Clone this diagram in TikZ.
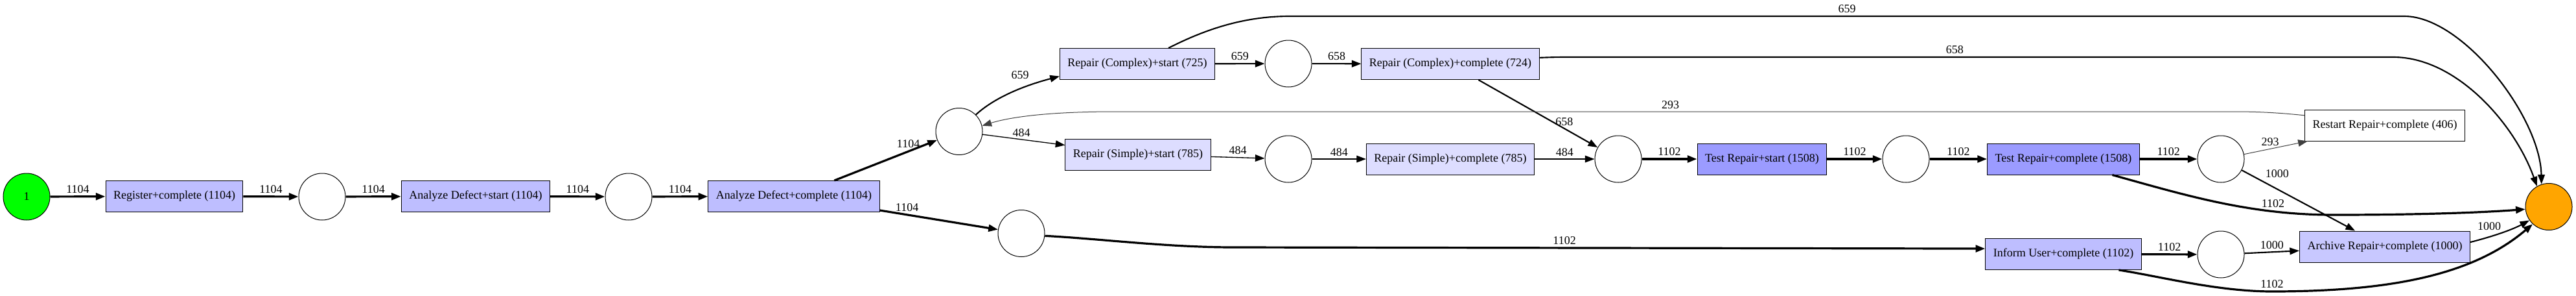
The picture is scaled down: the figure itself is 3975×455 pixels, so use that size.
\documentclass[tikz,border=0pt]{standalone}
\usepackage{fontspec}
\setmainfont{Liberation Serif}
\usetikzlibrary{arrows.meta}

\definecolor{startgreen}{RGB}{0,255,0}
\definecolor{endorange}{RGB}{255,165,0}
\definecolor{actblue}{RGB}{190,190,255}
\definecolor{actlight}{RGB}{200,200,255}
\definecolor{actpale}{RGB}{221,221,255}
\definecolor{actdark}{RGB}{155,155,255}
\definecolor{backgray}{RGB}{64,64,64}

\begin{document}
\begin{tikzpicture}[x=0.75pt,y=-0.75pt,>={Triangle[length=11pt,width=8pt]}]
        \tikzstyle{every node}=[font=\fontsize{13.5}{16}\selectfont]
        \tikzstyle{act}=[draw,rectangle,line width=0.75pt,minimum height=36pt,inner xsep=9pt,inner ysep=2pt]
        \tikzstyle{place}=[draw,circle,line width=0.75pt,minimum size=54pt,inner sep=0pt]
        \tikzstyle{lbl}=[inner sep=3pt,text=black]
        \tikzstyle{w4}=[->,line width=2.4pt]
        \tikzstyle{w3}=[->,line width=1.6pt]
        \tikzstyle{w2}=[->,line width=1pt]
        \tikzstyle{w1}=[->,line width=0.75pt,draw=backgray]
        \useasboundingbox (0,0) rectangle (3975,455);

        \node[place,fill=startgreen] (src) at (41,303) {1};
        \node[act,fill=actblue] (reg) at (269,302.5) {Register+complete (1104)};
        \node[place] (p1) at (497,303) {};
        \node[act,fill=actblue] (ads) at (734,302.5) {Analyze Defect+start (1104)};
        \node[place] (p2) at (970,303) {};
        \node[act,fill=actblue] (adc) at (1225,302.5) {Analyze Defect+complete (1104)};
        \node[place] (p3) at (1480,202.5) {};
        \node[place] (p4) at (1576,359.5) {};
        \node[act,fill=actpale] (rcs) at (1755,98.5) {Repair (Complex)+start (725)};
        \node[place] (p5) at (1988,98) {};
        \node[act,fill=actpale] (rcc) at (2238,98.5) {Repair (Complex)+complete (724)};
        \node[act,fill=actpale] (rss) at (1756,238) {Repair (Simple)+start (785)};
        \node[place] (p6) at (1988,245) {};
        \node[act,fill=actpale] (rsc) at (2238,245) {Repair (Simple)+complete (785)};
        \node[place] (p7) at (2497,245) {};
        \node[act,fill=actdark] (trs) at (2719,245) {Test Repair+start (1508)};
        \node[place] (p8) at (2941,245) {};
        \node[act,fill=actdark] (trc) at (3184,245) {Test Repair+complete (1508)};
        \node[place] (p9) at (3427,245) {};
        \node[act,fill=white] (rrc) at (3680,193) {Restart Repair+complete (406)};
        \node[act,fill=actblue] (iuc) at (3184,391.5) {Inform User+complete (1102)};
        \node[place] (p10) at (3427,392) {};
        \node[act,fill=actlight] (arc) at (3680,380) {Archive Repair+complete (1000)};
        \node[place,fill=endorange] (sink) at (3933,318.5) {};

        \draw[w4] (src) -- node[lbl,above] {1104} (reg);
        \draw[w4] (reg) -- node[lbl,above] {1104} (p1);
        \draw[w4] (p1) -- node[lbl,above] {1104} (ads);
        \draw[w4] (ads) -- node[lbl,above] {1104} (p2);
        \draw[w4] (p2) -- node[lbl,above] {1104} (adc);
        \draw[w4] (adc) -- node[lbl,above,pos=.72] {1104} (p3);
        \draw[w4] (adc) -- node[lbl,above,pos=.23] {1104} (p4);
        \draw[w3] (p3.45) .. controls (1535,150) and (1580,132) .. (rcs.189) node[lbl,above=8pt,pos=.6] {659};
        \draw[w2] (p3) -- node[lbl,above,pos=.47] {484} (rss);
        \draw[w3] (rcs) -- node[lbl,above] {659} (p5);
        \draw[w3] (p5) -- node[lbl,above] {658} (rcc);
        \draw[w2] (rss) -- node[lbl,above] {484} (p6);
        \draw[w2] (p6) -- node[lbl,above] {484} (rsc);
        \draw[w3] (rcc) -- node[lbl,right,pos=.62] {658} (p7);
        \draw[w2] (rsc) -- node[lbl,above] {484} (p7);
        \draw[w4] (p7) -- node[lbl,above] {1102} (trs);
        \draw[w4] (trs) -- node[lbl,above] {1102} (p8);
        \draw[w4] (p8) -- node[lbl,above] {1102} (trc);
        \draw[w4] (trc) -- node[lbl,above] {1102} (p9);
        \draw[w1] (p9) -- node[lbl,above,pos=.41] {293} (rrc);
        \draw[w3] (p9) -- node[lbl,above right,pos=.18] {1000} (arc);
        \draw[w1] (rrc.173) .. controls (3500,172) and (3470,172) .. (3434,172) -- node[lbl,above] {293} (1721,172) .. controls (1620,172) and (1560,180) .. (p3.14);
        \draw[w3] (rcs.27) .. controls (1860,45) and (1920,25) .. (1990,25) -- node[lbl,above] {659} (3710,25) .. controls (3800,25) and (3920,180) .. (sink.108);
        \draw[w3] (rcc.4) .. controls (2400,88) .. (2440,88) -- node[lbl,above,pos=.46] {658} (3693,88) .. controls (3790,88) and (3880,190) .. (sink.120);
        \draw[w4] (trc.-18) .. controls (3370,300) and (3470,331) .. (3600,331) node[lbl,above,pos=.75] {1102} .. controls (3760,331) and (3850,326) .. (sink.186);
        \draw[w4] (iuc.-16) .. controls (3330,425) and (3420,449) .. (3506,449) node[lbl,above] {1102} .. controls (3700,449) and (3820,420) .. (sink.227);
        \draw[w3] (arc.3) .. controls (3855,362) and (3880,352) .. (sink.215) node[lbl,above=4pt,pos=.25] {1000};
        \draw[w4] (iuc) -- node[lbl,above] {1102} (p10);
        \draw[w3] (p10) -- node[lbl,above] {1000} (arc);
        \draw[w4] (p4.-6) .. controls (1700,368) and (1800,381) .. (1904,381) -- node[lbl,above,pos=.44] {1102} (iuc.176);
    \end{tikzpicture}
\end{document}
